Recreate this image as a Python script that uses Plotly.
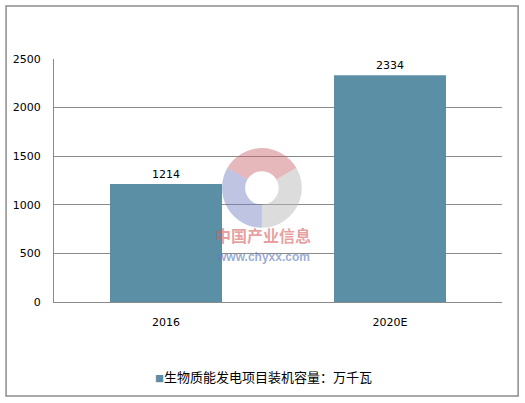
import plotly.graph_objects as go

categories = ["2016", "2020E"]
values = [1214, 2334]
series_name = "生物质能发电项目装机容量：万千瓦"
y_ticks = [0, 500, 1000, 1500, 2000, 2500]

# faint watermark logo pieces (decoration)
logo_parts = ["top", "right", "left"]
logo_shares = [1, 1, 1]
logo_colors = ["rgba(200,95,105,0.45)", "rgba(185,185,185,0.5)", "rgba(110,125,190,0.45)"]

bar_color = "#5B8FA6"
grid_color = "#8A8A8A"
font_lat = "Verdana, DejaVu Sans, sans-serif"
font_cjk = "Noto Sans CJK SC"

fig = go.Figure()
fig.add_trace(go.Bar(
    x=categories, y=values, name=series_name,
    marker=dict(color=bar_color, line=dict(width=0)),
    text=[str(v) for v in values], textposition="outside",
    textfont=dict(family=font_lat, size=11, color="#000000"),
    cliponaxis=False, showlegend=False,
))

fig.add_trace(go.Pie(
    labels=logo_parts, values=logo_shares, hole=0.42, sort=False,
    direction="clockwise", rotation=-60,
    marker=dict(colors=logo_colors, line=dict(width=0)),
    textinfo="none", hoverinfo="skip", showlegend=False,
    domain=dict(x=[0.375, 0.553], y=[0.305, 0.634]),
))

fig.update_layout(
    width=525, height=403,
    margin=dict(l=54, r=23, t=59, b=101),
    paper_bgcolor="white", plot_bgcolor="white",
    bargap=0.5,
    font=dict(family=font_lat, size=11, color="#000000"),
    xaxis=dict(type="category", showgrid=False, showline=True, linecolor=grid_color,
               linewidth=1, ticks="", automargin=False,
               tickfont=dict(family=font_lat, size=11), ticklabelstandoff=10),
    yaxis=dict(range=[0, 2500], tickvals=y_ticks, showgrid=True, gridcolor=grid_color,
               gridwidth=1, showline=True, linecolor=grid_color, linewidth=1, ticks="",
               zeroline=False, automargin=False,
               tickfont=dict(family=font_lat, size=11), ticklabelstandoff=10),
    showlegend=False,
)

# legend drawn as a marker + label
fig.add_annotation(xref="paper", yref="paper", x=0.467, y=-0.305, xanchor="center", yanchor="middle",
                   text=f"<span style='color:{bar_color};font-size:9px'>■</span>{series_name}",
                   showarrow=False, font=dict(family=font_cjk, size=13, color="#000000"))

# watermark text
fig.add_annotation(xref="paper", yref="paper", x=0.467, y=0.276, xanchor="center", yanchor="middle",
                   text="<b>中国产业信息</b>",
                   showarrow=False, font=dict(family=font_cjk, size=16, color="rgba(215,95,95,0.6)"))
fig.add_annotation(xref="paper", yref="paper", x=0.467, y=0.185, xanchor="center", yanchor="middle",
                   text="<b>www.chyxx.com</b>",
                   showarrow=False, font=dict(family="Arial, Liberation Sans", size=12, color="rgba(100,125,185,0.65)"))

# outer border
fig.add_shape(type="rect", xref="paper", yref="paper", x0=-0.107, x1=1.036, y0=-0.387, y1=1.218,
              line=dict(color="#8C8C8C", width=1.5))

fig.write_html("out.html", config={"displayModeBar": False},
               post_script="document.body.style.margin='0';document.body.style.overflow='hidden';")
